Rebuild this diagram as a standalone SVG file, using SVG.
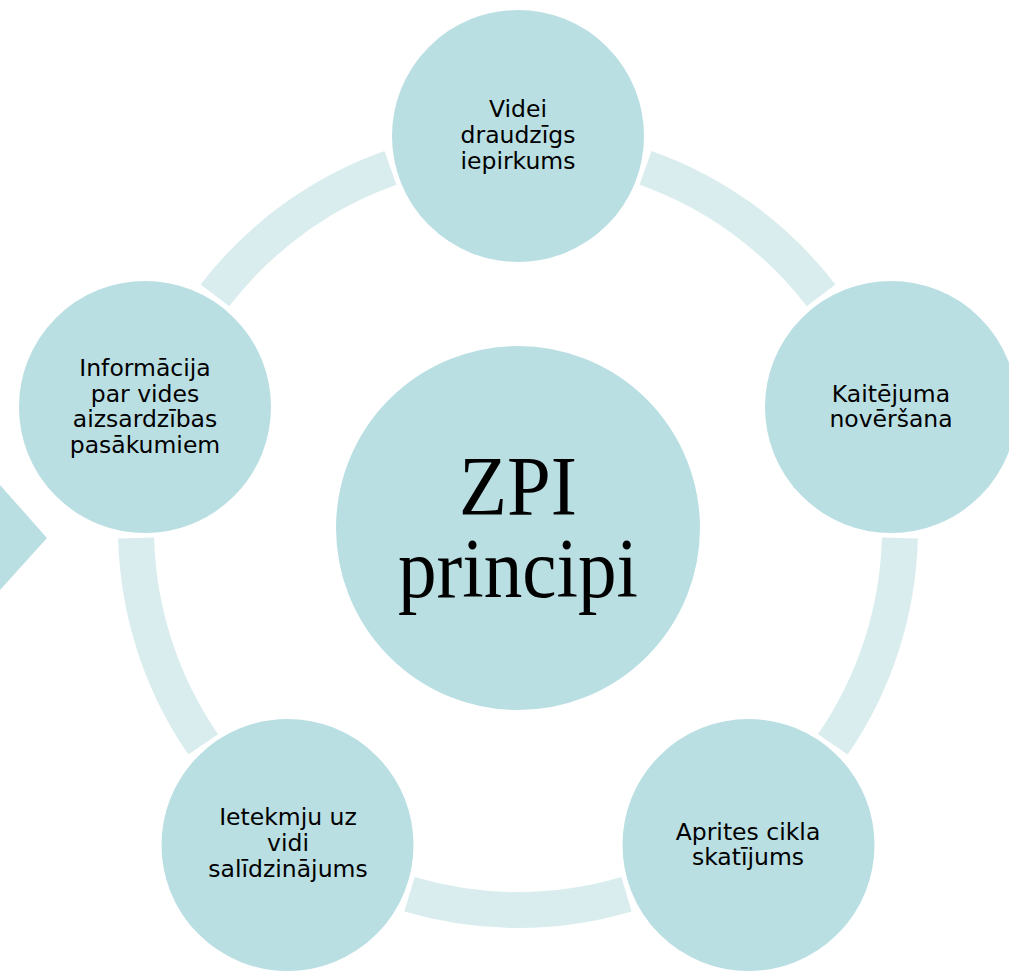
<svg xmlns="http://www.w3.org/2000/svg" width="1009" height="972" viewBox="0 0 1009 972">
<style>
.band{fill:none;stroke:#DAEDEE;stroke-width:36;stroke-linecap:butt}
.node{fill:#BADFE3;stroke:#FFFFFF;stroke-width:4}
.lbl{font-family:"DejaVu Sans","Verdana",sans-serif;font-size:23.5px;fill:#000;text-anchor:middle}
.ctr{font-family:"Liberation Serif","Times New Roman",serif;font-size:84px;fill:#000;text-anchor:middle}
</style>
<rect width="1009" height="972" fill="#FFFFFF"/>
<polygon id="chevron" points="0,485 47,538 0,590" fill="#BADFE3"/>
<g id="connectors">
<path class="band" d="M645.5,167.9 A382,382 0 0 1 821.1,295.4"/>
<path class="band" d="M899.9,538.0 A382,382 0 0 1 832.8,744.4"/>
<path class="band" d="M626.5,894.3 A382,382 0 0 1 409.5,894.3"/>
<path class="band" d="M203.2,744.4 A382,382 0 0 1 136.1,538.0"/>
<path class="band" d="M214.9,295.4 A382,382 0 0 1 390.5,167.9"/>
</g>
<g id="center">
<circle class="node" cx="518" cy="528" r="184"/>
<text class="ctr" x="518" y="515" textLength="118" lengthAdjust="spacingAndGlyphs">ZPI</text>
<text class="ctr" x="518" y="597" textLength="240" lengthAdjust="spacingAndGlyphs">principi</text>
</g>
<g id="n-top">
<circle class="node" cx="518" cy="136" r="128"/>
<text class="lbl" x="518" y="117">Videi</text>
<text class="lbl" x="518" y="143">draudzīgs</text>
<text class="lbl" x="518" y="169">iepirkums</text>
</g>
<g id="n-right">
<circle class="node" cx="891" cy="407" r="128"/>
<text class="lbl" x="891" y="402">Kaitējuma</text>
<text class="lbl" x="891" y="427">novēršana</text>
</g>
<g id="n-bottomright">
<circle class="node" cx="748.5" cy="845" r="128"/>
<text class="lbl" x="748" y="840">Aprites cikla</text>
<text class="lbl" x="748" y="865">skatījums</text>
</g>
<g id="n-bottomleft">
<circle class="node" cx="287.5" cy="845" r="128"/>
<text class="lbl" x="288" y="825">Ietekmju uz</text>
<text class="lbl" x="288" y="851">vidi</text>
<text class="lbl" x="288" y="877">salīdzinājums</text>
</g>
<g id="n-left">
<circle class="node" cx="145" cy="407" r="128"/>
<text class="lbl" x="145" y="376">Informācija</text>
<text class="lbl" x="145" y="402">par vides</text>
<text class="lbl" x="145" y="427">aizsardzības</text>
<text class="lbl" x="145" y="453">pasākumiem</text>
</g>
</svg>
